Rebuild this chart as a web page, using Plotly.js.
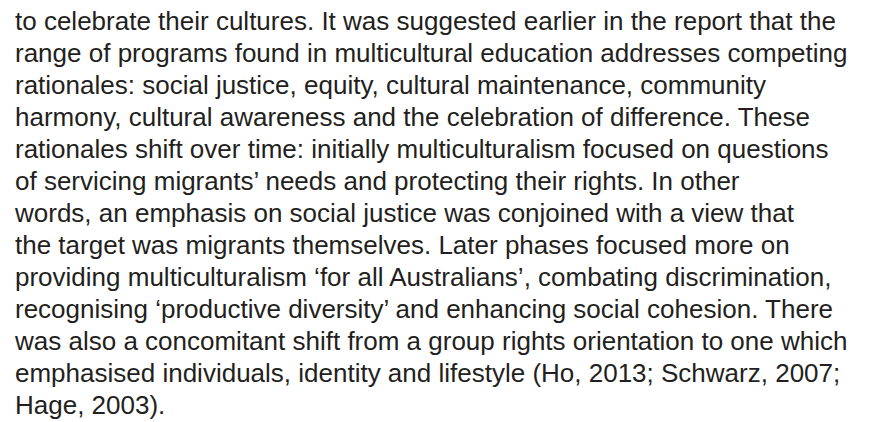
<!DOCTYPE html>
<html>
<head>
<meta charset="utf-8">
<script src="https://cdn.plot.ly/plotly-3.0.1.min.js"></script>
<style>html,body{margin:0;padding:0;background:#fff;}#chart{width:882px;height:422px;}</style>
</head>
<body>
<div id="chart"></div>
<script>
const lines = [
  "to celebrate their cultures. It was suggested earlier in the report that the",
  "range of programs found in multicultural education addresses competing",
  "rationales: social justice, equity, cultural maintenance, community",
  "harmony, cultural awareness and the celebration of difference. These",
  "rationales shift over time: initially multiculturalism focused on questions",
  "of servicing migrants\u2019 needs and protecting their rights. In other",
  "words, an emphasis on social justice was conjoined with a view that",
  "the target was migrants themselves. Later phases focused more on",
  "providing multiculturalism \u2018for all Australians\u2019, combating discrimination,",
  "recognising \u2018productive diversity\u2019 and enhancing social cohesion. There",
  "was also a concomitant shift from a group rights orientation to one which",
  "emphasised individuals, identity and lifestyle (Ho, 2013; Schwarz, 2007;",
  "Hage, 2003)."
];
const lineIndex = lines.map((_, i) => i);
const xStart = lines.map(() => 0);

const trace = {
  type: 'scatter',
  mode: 'text',
  x: xStart,
  y: lineIndex,
  text: lines,
  textposition: 'middle right',
  textfont: {family: '"Liberation Sans", Arial, sans-serif', size: 26, color: '#231f20'},
  hoverinfo: 'skip',
  cliponaxis: false
};

const layout = {
  width: 882, height: 422,
  margin: {l: 0, r: 0, t: 0, b: 0},
  paper_bgcolor: '#ffffff', plot_bgcolor: '#ffffff',
  showlegend: false,
  xaxis: {range: [-15, 867], visible: false, fixedrange: true},
  yaxis: {range: [12.438, -0.717], visible: false, fixedrange: true}
};

Plotly.newPlot('chart', [trace], layout, {displayModeBar: false, staticPlot: true});
</script>
</body>
</html>
